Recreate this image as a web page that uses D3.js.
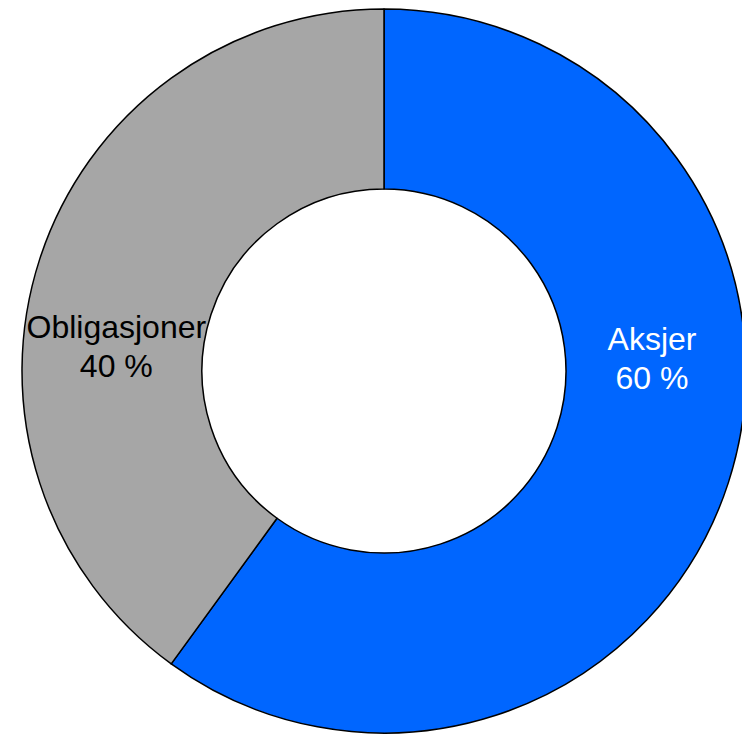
<!DOCTYPE html>
<html>
<head>
<meta charset="utf-8">
<script src="https://cdn.jsdelivr.net/npm/d3@7"></script>
<style>
    body { margin: 0; background: #fff; }
    svg { display: block; }
</style>
</head>
<body>
<div id="chart"></div>
<script>
// data
let categories = ["Aksjer", "Obligasjoner"];
let shares = [60, 40];
let shareLabels = ["60 %", "40 %"];

let colors = ["#0066ff", "#a6a6a6"];
let labelColors = ["#ffffff", "#000000"];
// where each label sits (degrees clockwise from top)
let labelAngles = [89.7, 272.8];

let width = 742, height = 735;
let cx = 384, cy = 371;
let outerR = 362, innerR = 182;

let svg = d3.select("#chart").append("svg")
    .attr("width", width)
    .attr("height", height);

let g = svg.append("g")
    .attr("transform", "translate(" + cx + "," + cy + ")");

let dataset = categories.map(function(c, i) {
    return {name: c, value: shares[i], label: shareLabels[i], i: i};
});

let pie = d3.pie()
    .sort(null)
    .value(function(d) { return d.value; });

let arc = d3.arc()
    .innerRadius(innerR)
    .outerRadius(outerR);

let arcs = pie(dataset);

g.selectAll("path")
    .data(arcs)
    .enter().append("path")
    .attr("d", arc)
    .attr("fill", function(d) { return colors[d.data.i]; })
    .attr("stroke", "#000")
    .attr("stroke-width", 1.5)
    .attr("stroke-linejoin", "round");

// labels
let labelR = 268;
let fontSize = 32;

let labels = g.selectAll("text.label")
    .data(arcs)
    .enter().append("text")
    .attr("class", "label")
    .attr("font-family", "'Liberation Sans', Arial, sans-serif")
    .attr("font-size", fontSize + "px")
    .attr("text-anchor", "middle")
    .attr("fill", function(d) { return labelColors[d.data.i]; })
    .attr("transform", function(d) {
        let a = labelAngles[d.data.i] * Math.PI / 180;
        let x = labelR * Math.sin(a);
        let y = -labelR * Math.cos(a);
        return "translate(" + x + "," + y + ")";
    });

labels.append("tspan")
    .attr("x", 0)
    .attr("y", -19.5)
    .text(function(d) { return d.data.name; });

labels.append("tspan")
    .attr("x", 0)
    .attr("y", 19.5)
    .text(function(d) { return d.data.label; });
</script>
</body>
</html>
